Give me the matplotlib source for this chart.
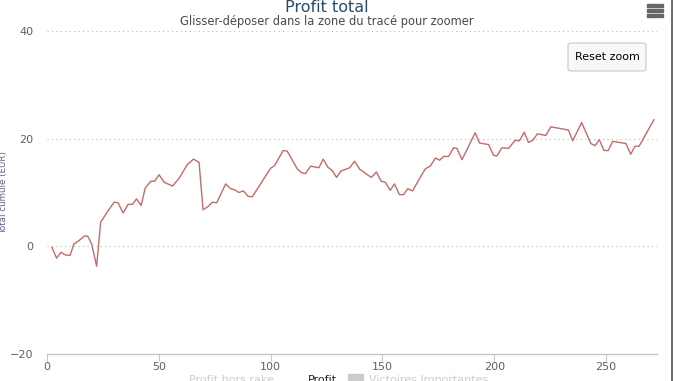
import matplotlib
matplotlib.use("Agg")
import matplotlib.pyplot as plt
from matplotlib.patches import FancyBboxPatch, Rectangle
from matplotlib.lines import Line2D

# Cumulative profit (EUR)
game = [2.2, 4.3, 6.2, 8.2, 10.3, 12.0, 14.4, 16.7, 18.2, 20.0, 22.2, 24.0, 27.0, 30.0,
        31.8, 34.0, 36.3, 38.2, 40.0, 42.1, 43.9, 46.4, 48.2, 50.1, 52.4, 56.1, 59.0,
        62.8, 65.5, 68.0, 69.8, 71.7, 74.0, 75.9, 79.9, 82.1, 83.9, 85.8, 87.8, 89.9,
        91.8, 95.5, 100.0, 101.8, 105.6, 107.4, 111.9, 113.8, 115.6, 117.9, 121.6, 123.5,
        125.6, 127.5, 129.5, 131.5, 135.4, 137.5, 139.9, 145.0, 147.3, 149.4, 151.3,
        153.5, 155.4, 157.6, 159.5, 161.3, 163.5, 166.2, 169.2, 171.4, 173.7, 175.6,
        177.4, 179.6, 181.8, 183.3, 185.6, 191.5, 193.4, 197.5, 199.7, 201.2, 203.4,
        206.4, 209.4, 211.3, 213.4, 215.3, 217.3, 219.3, 223.1, 225.3, 233.2, 235.1,
        239.1, 243.2, 245.1, 247.0, 249.1, 251.0, 253.0, 258.9, 261.0, 263.0, 264.8,
        271.4]
profit = [-0.2, -2.2, -1.1, -1.6, -1.7, 0.4, 1.1, 1.9, 1.9, 0.4, -3.7, 4.5, 6.4, 8.2,
          8.1, 6.2, 7.8, 7.8, 8.8, 7.6, 10.8, 12.1, 12.1, 13.3, 11.9, 11.2, 12.6,
          15.2, 16.2, 15.6, 6.8, 7.3, 8.2, 8.1, 11.6, 10.7, 10.5, 10.0, 10.3, 9.3,
          9.2, 11.6, 14.5, 15.0, 17.8, 17.7, 14.4, 13.7, 13.5, 14.9, 14.6, 16.2,
          14.7, 14.1, 12.8, 14.0, 14.6, 15.8, 14.3, 12.8, 13.8, 12.1, 11.9,
          10.4, 11.6, 9.6, 9.6, 10.7, 10.3, 12.3, 14.4, 14.9, 16.4, 16.0,
          16.7, 16.7, 18.3, 18.2, 16.1, 21.1, 19.2, 18.9, 16.9, 16.8, 18.3,
          18.2, 19.7, 19.6, 21.2, 19.3, 19.7, 20.9, 20.6, 22.2, 21.6, 19.6,
          23.0, 19.1, 18.7, 19.8, 17.8, 17.8, 19.5, 19.1, 17.1, 18.6, 18.6,
          23.5]

y_ticks = [-20, 0, 20, 40]
x_ticks = [0, 50, 100, 150, 200, 250]
legend_items = ["Profit hors rake", "Profit", "Victoires Importantes"]

W, H = 676, 381
fig = plt.figure(figsize=(W / 100, H / 100), dpi=100)
ax = fig.add_axes([47 / W, 1 - 354 / H, (657 - 47) / W, (354 - 31) / H])

ax.plot(game, profit, color="#c46a6a", lw=1.0)

ax.set_xlim(0, 272.8)
ax.set_ylim(-20, 40)
ax.set_yticks(y_ticks)
ax.set_xticks(x_ticks)

for s in ["top", "right", "left"]:
    ax.spines[s].set_visible(False)
ax.spines["bottom"].set_color("#c0c8d0")
ax.spines["bottom"].set_linewidth(1)

ax.grid(axis="y", color="#b8b8b8", linestyle=(0, (1, 3)), lw=0.8)
ax.tick_params(axis="y", length=0, pad=10, labelsize=8, labelcolor="#606060")
ax.tick_params(axis="x", length=5, color="#c0c8d0", pad=1, labelsize=8, labelcolor="#606060")

# axis title sits right at the left edge, as in the reference
fig.text(4 / W, 1 - 193 / H, "Total cumulé (EUR)", rotation=90, ha="center",
         va="center", fontsize=6.3, color="#6a5a8a")

fig.text(327 / W, 1 - 7 / H, "Profit total", ha="center", va="center",
         fontsize=11.5, color="#274b6d")
fig.text(327 / W, 1 - 21 / H, "Glisser-déposer dans la zone du tracé pour zoomer",
         ha="center", va="center", fontsize=8.3, color="#4a4a4a")

# export menu icon
for yy in [4, 9, 14]:
    fig.add_artist(Rectangle((647 / W, 1 - (yy + 2.5) / H), 16 / W, 3 / H,
                             color="#666666", transform=fig.transFigure))

# reset zoom button
fig.add_artist(FancyBboxPatch((568 / W, 1 - 71 / H), 78 / W, 28 / H,
                              boxstyle="round,pad=0,rounding_size=0.005",
                              fc="#f8f8f8", ec="#c8c8c8", lw=0.8,
                              transform=fig.transFigure))
fig.text(607 / W, 1 - 57 / H, "Reset zoom", ha="center", va="center",
         fontsize=8, color="#000000")

# frame line at the right edge
fig.add_artist(Line2D([672 / W, 672 / W], [0, 1], color="#555555", lw=1.2,
                      transform=fig.transFigure))

# legend, cut at the bottom of the picture
fig.text(189 / W, 1 - 375 / H, legend_items[0], ha="left", va="top",
         fontsize=8, color="#cccccc")
fig.text(308 / W, 1 - 375 / H, legend_items[1], ha="left", va="top",
         fontsize=8, color="#222222")
fig.add_artist(Rectangle((348 / W, 0), 15 / W, 7 / H, color="#cccccc",
                         transform=fig.transFigure))
fig.text(369 / W, 1 - 375 / H, legend_items[2], ha="left", va="top",
         fontsize=8, color="#cccccc")

fig.savefig("out.png", dpi=100)
